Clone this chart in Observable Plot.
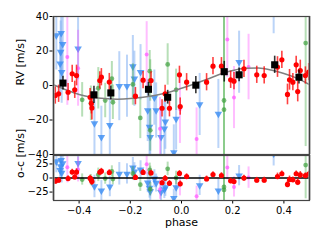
<!DOCTYPE html>
<html><head><meta charset="utf-8">
<script src="https://cdn.jsdelivr.net/npm/d3@7"></script>
<script src="https://cdn.jsdelivr.net/npm/@observablehq/plot@0.6"></script>
<style>body{margin:0;background:#fff}#c{width:322px}#c svg{display:block}</style>
</head><body><div id="c"></div>
<script>
// ---- data ----
const redPhase = [-0.493,-0.48,-0.443,-0.427,-0.417,-0.41,-0.357,-0.352,-0.35,-0.319,-0.313,-0.282,-0.18,-0.15,-0.119,-0.076,-0.064,-0.047,-0.008,-0.005,0.02,0.098,0.123,0.156,0.192,0.205,0.244,0.294,0.323,0.375,0.392,0.414,0.422,0.435,0.448,0.454,0.464,0.484,0.497];
const redRV    = [-5.8,-4.8,-3.9,6.8,-2.5,5.8,-6.8,-10.5,-13,2.9,4.8,2,-6.2,3.1,2.9,-13.2,-4.8,-13.2,6.2,-12.2,1.9,1.9,11.2,11.2,3.3,2.5,9.7,6.2,5.8,10.7,14.9,-5.2,3.3,1.9,12,-3.5,8.7,5.8,7.7];
const redErr   = [5,5,5,5,5,6,5,6,7,5,5,5,5,5,5,5,5,5,5,5,5,5,5,5,5,5,5,5,5,6,5,6,6,5,5,6,6,5,5];

const bluePhase = [-0.489,-0.47,-0.464,-0.472,-0.474,-0.468,-0.404,-0.34,-0.313,-0.28,-0.243,-0.213,-0.19,-0.184,-0.16,-0.132,-0.125,-0.122,-0.106,-0.099,-0.08,-0.067,-0.063,-0.03,-0.021,0.071,0.144,0.225,0.36];
const blueRV    = [29,30.4,24,19.4,12.6,7.7,21.3,-22,-30,-23,-0.4,-0.4,11,3.9,7.7,-14.5,-24,-30,-7,-14.5,-30,-25,-21,-38.8,-19.4,-11,-16.5,13.5,52];
const blueErr   = [20,22,20,18,18,18,18,20,18,18,20,18,18,16,16,18,18,16,16,16,16,16,16,16,18,18,20,18,22];

const greenPhase = [-0.388,-0.354,-0.325,-0.298,-0.272,-0.268,-0.19,-0.161,-0.124,-0.122,-0.122,-0.054,-0.021,0.166,0.166,0.485];
const greenRV    = [-8.3,-10.3,-1.6,-8.7,3.9,-9.7,0.6,-18.8,8.3,2.9,-26,12.2,-2.5,-8.7,-14,24.6];
const greenErr   = [10,10,12,10,10,10,12,12,12,12,12,12,12,60,60,60];

const magPhase = [-0.446,-0.404,-0.136,-0.084,-0.006,0.059,0.179,0.205,0.262];
const magRV    = [16.5,10,18,-25,-13.6,-31,26.6,-7,10.7];
const magErr   = [28,22,19,18,20,18,22,18,19];

const binPhase = [-0.463,-0.342,-0.276,-0.129,-0.054,0.056,0.167,0.225,0.364,0.459];
const binRV    = [1.4,-5.4,-4.3,-2.2,-6.8,0.2,8,6.2,12,4.8];
const binErr   = [4,5,4,4,4,5,6,4,5,4];

const modelPhase = [-0.5,-0.45,-0.4,-0.35,-0.3,-0.25,-0.2,-0.15,-0.1,-0.05,0,0.05,0.1,0.15,0.2,0.25,0.3,0.35,0.4,0.45,0.5];
const modelRV    = [0.4,-2.6,-5.2,-6.8,-7.6,-7.9,-7.6,-6.8,-5.6,-3.9,-1.6,0.9,3.6,6.5,8.7,10.0,10.1,9.0,7.0,4.3,0.5];

const rvTicks = [-40,-20,0,20,40];
const ocTicks = [-25,0,25];
const phaseTicks = [-0.4,-0.2,0,0.2,0.4];

// ---- build tables ----
const model = d3.scaleLinear().domain(modelPhase).range(modelRV);
// o-c = observed minus computed model
const rows = (ph, rv, er) => ph.map((p,i)=>({p, v: rv[i], e: er[i], oc: rv[i]-model(p)}));
const red = rows(redPhase, redRV, redErr);
const blue = rows(bluePhase, blueRV, blueErr);
const green = rows(greenPhase, greenRV, greenErr);
const mag = rows(magPhase, magRV, magErr);
const bins = rows(binPhase, binRV, binErr);
const modelLine = modelPhase.map((p,i)=>({p, v: modelRV[i]}));

const FONT = "DejaVu Sans";
const styles = {
  blue:  {bar:{stroke:"#77aaf2", strokeOpacity:0.5, strokeWidth:2}, dot:{symbol:"triangle", rotate:180, r:2.8, fill:"#3a8cf2", fillOpacity:0.8}},
  mag:   {bar:{stroke:"#ff44ff", strokeOpacity:0.35, strokeWidth:2}, dot:{r:2, fill:"#ff55ff", fillOpacity:0.7}},
  green: {bar:{stroke:"#4cae4c", strokeOpacity:0.4, strokeWidth:2}, dot:{r:2.4, fill:"#3f9f3f", fillOpacity:0.7}},
  red:   {bar:{stroke:"#ff0000", strokeOpacity:0.75, strokeWidth:1.6}, dot:{r:2.6, fill:"#ff0000"}}
};
function seriesMarks(data, st, key) {
  return [
    Plot.ruleX(data, {x:"p", y1: d=>d[key]-d.e, y2: d=>d[key]+d.e, ...st.bar, clip:true}),
    Plot.dot(data, {x:"p", y:key, ...st.dot, stroke:"none", clip:true})
  ];
}

const xDom = [-0.5, 0.5];
const topPlot = Plot.plot({
  width: 322, height: 154,
  marginLeft: 53, marginRight: 13, marginTop: 16, marginBottom: 0,
  style: {fontFamily: FONT, fontSize: "10px", background: "#fff", overflow: "visible"},
  x: {domain: xDom, axis: null},
  y: {domain: [-40, 40], ticks: rvTicks, tickSize: 3.5, tickPadding: 1.5, label: null},
  marks: [
    ...seriesMarks(blue, styles.blue, "v"),
    ...seriesMarks(mag, styles.mag, "v"),
    ...seriesMarks(green, styles.green, "v"),
    Plot.line(modelLine, {x:"p", y:"v", stroke:"#808080", strokeWidth:1.5, curve:"monotone-x", clip:true}),
    ...seriesMarks(red, styles.red, "v"),
    Plot.ruleX(bins, {x:"p", y1: d=>d.v-d.e, y2: d=>d.v+d.e, stroke:"#000", strokeOpacity:0.8, strokeWidth:1.6}),
    Plot.dot(bins, {x:"p", y:"v", symbol:"square", r:4, fill:"#000"}),
    Plot.ruleX(xDom, {stroke:"#aaaaaa", strokeWidth:2.2}),
    Plot.frame({stroke:"#444", strokeWidth:1.2}),
    Plot.text(["RV [m/s]"], {frameAnchor:"left", dx:-33, rotate:-90, text:d=>d, fontSize:11, fill:"#000"})
  ]
});

const bottomPlot = Plot.plot({
  width: 322, height: 87,
  marginLeft: 53, marginRight: 13, marginTop: 1, marginBottom: 41,
  style: {fontFamily: FONT, fontSize: "10px", background: "#fff", overflow: "visible"},
  x: {domain: xDom, ticks: phaseTicks, tickFormat: d3.format(".1f"), tickSize: 3.5, tickPadding: 2.5, label: null},
  y: {domain: [-40, 40], ticks: ocTicks, tickSize: 3.5, tickPadding: 1.5, label: null},
  marks: [
    ...seriesMarks(blue, styles.blue, "oc"),
    ...seriesMarks(mag, styles.mag, "oc"),
    ...seriesMarks(green, styles.green, "oc"),
    Plot.ruleY([0], {stroke:"#000", strokeWidth:1.3}),
    ...seriesMarks(red, styles.red, "oc"),
    Plot.ruleX(xDom, {stroke:"#aaaaaa", strokeWidth:2.2}),
    Plot.frame({stroke:"#444", strokeWidth:1.2}),
    Plot.text(["o-c [m/s]"], {frameAnchor:"left", dx:-33, rotate:-90, text:d=>d, fontSize:11, fill:"#000"}),
    Plot.text(["phase"], {frameAnchor:"bottom", dy:22, text:d=>d, fontSize:11, fill:"#000", lineAnchor:"middle"})
  ]
});

const c = document.getElementById("c");
c.appendChild(topPlot);
c.appendChild(bottomPlot);
</script>
</body></html>
